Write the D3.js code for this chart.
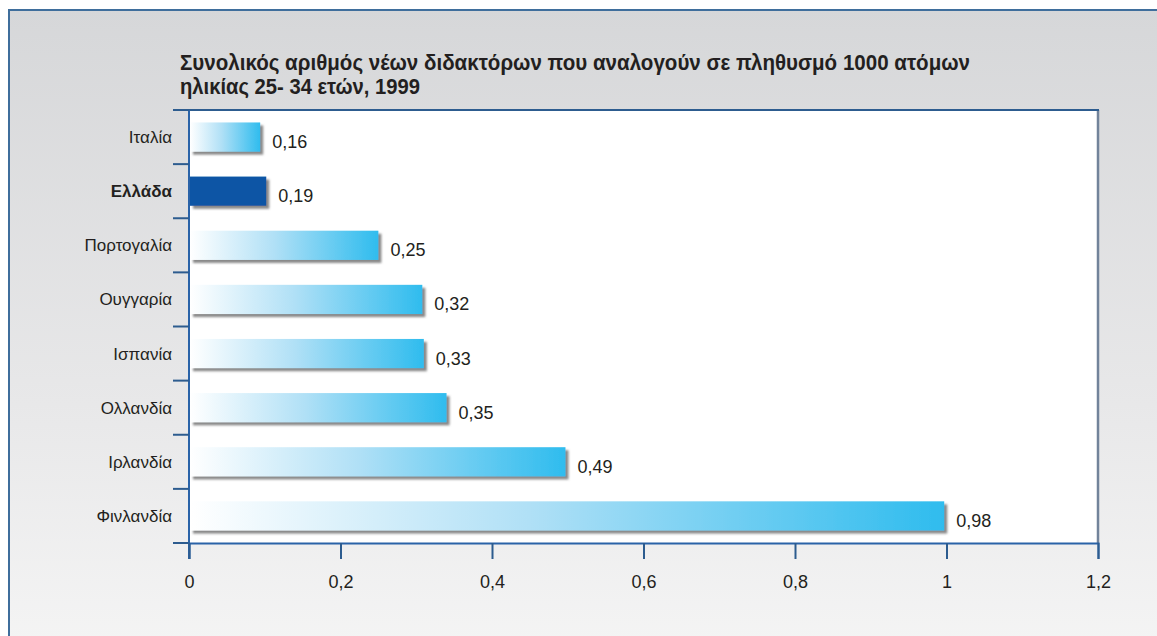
<!DOCTYPE html>
<html>
<head>
<meta charset="utf-8">
<script src="https://cdn.jsdelivr.net/npm/d3@7"></script>
<style>
  html, body { margin: 0; padding: 0; background: #ffffff; }
  svg { display: block; }
</style>
</head>
<body>
<div id="chart"></div>
<script>
// --------------------------------------
//  Data
// --------------------------------------

const countries = ["Ιταλία", "Ελλάδα", "Πορτογαλία", "Ουγγαρία", "Ισπανία", "Ολλανδία", "Ιρλανδία", "Φινλανδία"];
// bar lengths as drawn in the picture
const barValues = [0.094, 0.102, 0.25, 0.308, 0.31, 0.34, 0.497, 0.997];
// value labels printed next to the bars
const valueLabels = ["0,16", "0,19", "0,25", "0,32", "0,33", "0,35", "0,49", "0,98"];
const highlight = "Ελλάδα";
const xTicks = [0, 0.2, 0.4, 0.6, 0.8, 1, 1.2];
const titleLines = [
  "Συνολικός αριθμός νέων διδακτόρων που αναλογούν σε πληθυσμό 1000 ατόμων",
  "ηλικίας 25- 34 ετών, 1999"
];
const titleWidths = [790, 240];

const data = countries.map((c, i) => ({country: c, value: barValues[i], label: valueLabels[i]}));

// --------------------------------------
//  Canvas
// --------------------------------------

const width = 1157, height = 636;
const plot = {left: 189, right: 1098, top: 110, bottom: 543};
const font = "'Liberation Sans', Arial, sans-serif";

const svg = d3.select("#chart")
  .append("svg")
    .attr("width", width)
    .attr("height", height)
    .attr("viewBox", [0, 0, width, height]);

const defs = svg.append("defs");

const bg = defs.append("linearGradient")
    .attr("id", "bg")
    .attr("x1", 0).attr("y1", 0).attr("x2", 0).attr("y2", 1);
bg.append("stop").attr("offset", "0%").attr("stop-color", "#d6d7d9");
bg.append("stop").attr("offset", "60%").attr("stop-color", "#e8e8e9");
bg.append("stop").attr("offset", "100%").attr("stop-color", "#f5f5f5");

const barGrad = defs.append("linearGradient")
    .attr("id", "barGrad")
    .attr("x1", 0).attr("y1", 0).attr("x2", 1).attr("y2", 0);
barGrad.append("stop").attr("offset", "0%").attr("stop-color", "#ffffff");
barGrad.append("stop").attr("offset", "45%").attr("stop-color", "#b0e0f6");
barGrad.append("stop").attr("offset", "100%").attr("stop-color", "#2fbcee");

const shadow = defs.append("filter")
    .attr("id", "shadow")
    .attr("x", "-5%").attr("y", "-20%").attr("width", "115%").attr("height", "160%");
shadow.append("feDropShadow")
    .attr("dx", 3).attr("dy", 3)
    .attr("stdDeviation", 1.2)
    .attr("flood-color", "#6b6b6b")
    .attr("flood-opacity", 0.8);

// outer panel
svg.append("rect")
    .attr("x", 9).attr("y", 10)
    .attr("width", width + 20).attr("height", height + 20)
    .attr("fill", "url(#bg)")
    .attr("stroke", "#3f6e9c")
    .attr("stroke-width", 2);

// title
svg.append("g")
  .selectAll("text")
  .data(titleLines)
  .join("text")
    .attr("x", 180)
    .attr("y", (d, i) => 70 + i * 24)
    .attr("font-family", font)
    .attr("font-weight", "bold")
    .attr("font-size", 22)
    .attr("textLength", (d, i) => titleWidths[i])
    .attr("lengthAdjust", "spacingAndGlyphs")
    .attr("fill", "#231f20")
    .text(d => d);

// --------------------------------------
// Scales
// --------------------------------------

const x = d3.scaleLinear()
    .domain([0, 1.2])
    .range([plot.left, plot.right]);

const y = d3.scaleBand()
    .domain(countries)
    .range([plot.top, plot.bottom])
    .paddingInner(0.46)
    .paddingOuter(0.23);

const bandStep = y.step();

// plot area
svg.append("rect")
    .attr("x", plot.left).attr("y", plot.top)
    .attr("width", plot.right - plot.left)
    .attr("height", plot.bottom - plot.top)
    .attr("fill", "#ffffff");

svg.append("line")
    .attr("x1", plot.right).attr("x2", plot.right)
    .attr("y1", plot.top).attr("y2", plot.bottom)
    .attr("stroke", "#72839a")
    .attr("stroke-width", 2.5);

svg.append("line")
    .attr("x1", 173).attr("x2", plot.right + 1)
    .attr("y1", plot.top).attr("y2", plot.top)
    .attr("stroke", "#2d5c8f")
    .attr("stroke-width", 2);

// --------------------------------------
// Bars
// --------------------------------------

svg.append("g")
  .selectAll("rect")
  .data(data)
  .join("rect")
    .attr("x", x(0) + 1)
    .attr("y", d => y(d.country))
    .attr("width", d => x(d.value) - x(0) - 1)
    .attr("height", y.bandwidth())
    .attr("fill", d => d.country === highlight ? "#0b55a5" : "url(#barGrad)")
    .attr("filter", "url(#shadow)");

svg.append("g")
  .selectAll("text")
  .data(data)
  .join("text")
    .attr("x", d => x(d.value) + 12)
    .attr("y", d => y(d.country) + y.bandwidth() / 2 + 11)
    .attr("font-family", font)
    .attr("font-size", 18)
    .attr("fill", "#231f20")
    .text(d => d.label);

// --------------------------------------
// Axes
// --------------------------------------

const yAxis = svg.append("g")
    .attr("transform", `translate(${plot.left},0)`);

yAxis.append("line")
    .attr("y1", plot.top).attr("y2", plot.bottom + 16)
    .attr("stroke", "#2a63a8")
    .attr("stroke-width", 2);

yAxis.selectAll(".tick")
  .data(d3.range(countries.length + 1))
  .join("line")
    .attr("class", "tick")
    .attr("x1", -16).attr("x2", 0)
    .attr("y1", i => plot.top + i * bandStep)
    .attr("y2", i => plot.top + i * bandStep)
    .attr("stroke", "#2d5c8f")
    .attr("stroke-width", 2);

yAxis.selectAll("text")
  .data(countries)
  .join("text")
    .attr("x", -17)
    .attr("y", d => y(d) + y.bandwidth() / 2 + 6)
    .attr("text-anchor", "end")
    .attr("font-family", font)
    .attr("font-size", 17)
    .attr("font-weight", d => d === highlight ? "bold" : "normal")
    .attr("fill", "#231f20")
    .text(d => d);

const xAxis = svg.append("g")
    .attr("transform", `translate(0,${plot.bottom})`)
    .call(d3.axisBottom(x)
      .tickValues(xTicks)
      .tickSize(16)
      .tickPadding(16)
      .tickFormat(d => String(d).replace(".", ",")));

xAxis.select(".domain")
    .attr("stroke", "#2a63a8")
    .attr("stroke-width", 2);

xAxis.selectAll(".tick line")
    .attr("stroke", "#2d5c8f")
    .attr("stroke-width", 2);

xAxis.selectAll(".tick text")
    .attr("font-family", font)
    .attr("font-size", 18)
    .attr("fill", "#231f20");
</script>
</body>
</html>
